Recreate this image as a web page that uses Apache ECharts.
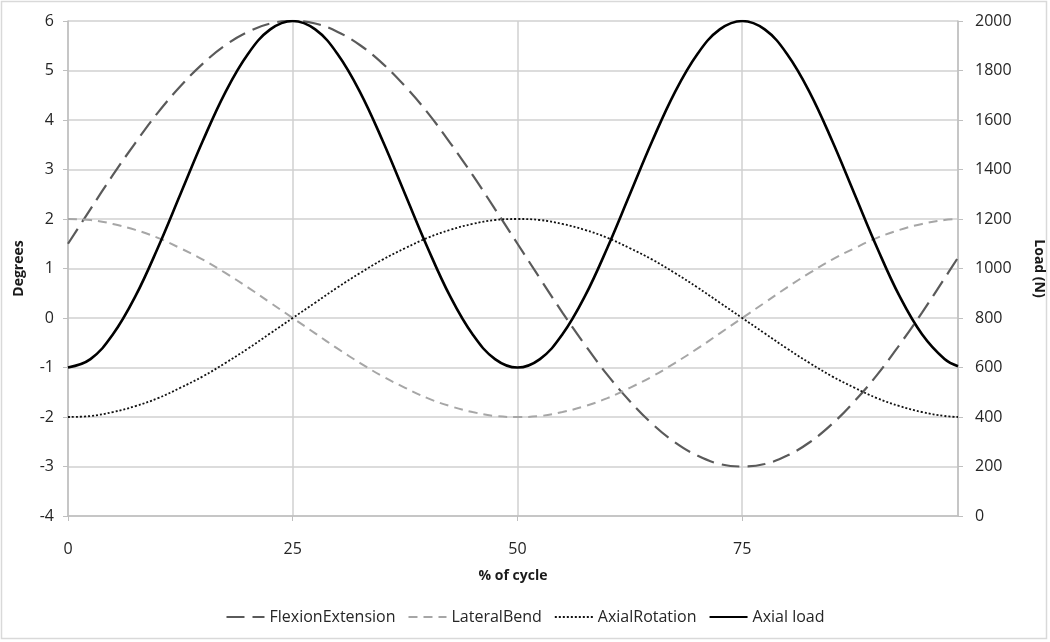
<!DOCTYPE html>
<html>
<head>
<meta charset="utf-8">
<script src="https://cdn.jsdelivr.net/npm/echarts@6/dist/echarts.min.js"></script>
<style>
html,body{margin:0;padding:0;background:#fff;}
#c{width:1050px;height:642px;}
</style>
</head>
<body>
<div id="c"></div>
<script>
// % of cycle
var cycle = [0,2.5,5,7.5,10,12.5,15,17.5,20,22.5,25,27.5,30,32.5,35,37.5,40,42.5,45,47.5,50,52.5,55,57.5,60,62.5,65,67.5,70,72.5,75,77.5,80,82.5,85,87.5,90,92.5,95,97.5,99];
var flexionExtension = [1.5,2.2,2.89,3.54,4.15,4.68,5.14,5.51,5.78,5.95,6,5.95,5.78,5.51,5.14,4.68,4.15,3.54,2.89,2.2,1.5,0.8,0.11,-0.54,-1.15,-1.68,-2.14,-2.51,-2.78,-2.95,-3,-2.95,-2.78,-2.51,-2.14,-1.68,-1.15,-0.54,0.11,0.8,1.22];
var lateralBend = [2,1.98,1.9,1.78,1.62,1.41,1.18,0.91,0.62,0.31,0,-0.31,-0.62,-0.91,-1.18,-1.41,-1.62,-1.78,-1.9,-1.98,-2,-1.98,-1.9,-1.78,-1.62,-1.41,-1.18,-0.91,-0.62,-0.31,0,0.31,0.62,0.91,1.18,1.41,1.62,1.78,1.9,1.98,2];
var axialRotation = [-2,-1.98,-1.9,-1.78,-1.62,-1.41,-1.18,-0.91,-0.62,-0.31,0,0.31,0.62,0.91,1.18,1.41,1.62,1.78,1.9,1.98,2,1.98,1.9,1.78,1.62,1.41,1.18,0.91,0.62,0.31,0,-0.31,-0.62,-0.91,-1.18,-1.41,-1.62,-1.78,-1.9,-1.98,-2];
var axialLoad = [600,634,734,888,1084,1300,1516,1712,1866,1966,2000,1966,1866,1712,1516,1300,1084,888,734,634,600,634,734,888,1084,1300,1516,1712,1866,1966,2000,1966,1866,1712,1516,1300,1084,888,734,634,605];
var xTicks = [0,25,50,75];

function pairs(ys){ return cycle.map(function(x,i){ return [x, ys[i]]; }); }

var FONT = 'Open Sans';
var LABEL = '#262626';
var chart = echarts.init(document.getElementById('c'), null, {renderer:'canvas'});
chart.setOption({
  animation:false,
  backgroundColor:'#fff',
  textStyle:{fontFamily:FONT},
  graphic:[{type:'rect', shape:{x:1.5,y:1.5,width:1045,height:637}, style:{fill:'none', stroke:'#d9d9d9', lineWidth:1.5}, silent:true}],
  grid:{left:68, right:92, top:21, bottom:126, containLabel:false, outerBoundsMode:'none'},
  legend:{
    bottom:12, left:'center', itemWidth:38, itemHeight:10, itemGap:12,
    textStyle:{fontFamily:FONT, fontSize:16, color:LABEL},
    itemStyle:{opacity:0},
    data:['FlexionExtension','LateralBend','AxialRotation','Axial load']
  },
  xAxis:{
    type:'value', min:0, max:99, interval:25,
    name:'% of cycle', nameLocation:'middle', nameGap:53,
    nameTextStyle:{fontFamily:FONT, fontSize:14, fontWeight:'bold', color:'#1a1a1a'},
    axisLine:{show:true, onZero:false, lineStyle:{color:'#bfbfbf', width:1.5}},
    axisTick:{show:true, length:5, lineStyle:{color:'#bfbfbf'}},
    axisLabel:{margin:25, fontSize:16, color:LABEL, showMaxLabel:false,
      formatter:function(v){ return xTicks.indexOf(v) >= 0 ? String(v) : ''; }},
    splitLine:{show:true, lineStyle:{color:'#d0d0d0', width:1.5}}
  },
  yAxis:[{
    type:'value', min:-4, max:6, interval:1, position:'left',
    name:'Degrees', nameLocation:'middle', nameGap:42, nameRotate:90,
    nameTextStyle:{fontFamily:FONT, fontSize:14, fontWeight:'bold', color:'#1a1a1a'},
    axisLine:{show:true, lineStyle:{color:'#bfbfbf', width:1.5}},
    axisTick:{show:true, length:5, lineStyle:{color:'#bfbfbf'}},
    axisLabel:{margin:14, fontSize:16, color:LABEL},
    splitLine:{show:true, lineStyle:{color:'#d0d0d0', width:1.5}}
  },{
    type:'value', min:0, max:2000, interval:200, position:'right',
    name:'Load (N)', nameLocation:'middle', nameGap:74, nameRotate:-90,
    nameTextStyle:{fontFamily:FONT, fontSize:14, fontWeight:'bold', color:'#1a1a1a'},
    axisLine:{show:true, lineStyle:{color:'#bfbfbf', width:1.5}},
    axisTick:{show:true, length:5, lineStyle:{color:'#bfbfbf'}},
    axisLabel:{margin:17, fontSize:16, color:LABEL, formatter:function(v){ return String(v); }},
    splitLine:{show:false}
  }],
  series:[{
    name:'FlexionExtension', type:'line', yAxisIndex:0, smooth:0.4, symbol:'none',
    data:pairs(flexionExtension), itemStyle:{color:'#5a5a5a'},
    lineStyle:{color:'#5a5a5a', width:2.2, type:[18,8]}
  },{
    name:'LateralBend', type:'line', yAxisIndex:0, smooth:0.4, symbol:'none',
    data:pairs(lateralBend), itemStyle:{color:'#a6a6a6'},
    lineStyle:{color:'#a6a6a6', width:2, type:[9,6]}
  },{
    name:'AxialRotation', type:'line', yAxisIndex:0, smooth:0.4, symbol:'none',
    data:pairs(axialRotation), itemStyle:{color:'#111'},
    lineStyle:{color:'#111', width:1.8, type:[2,2]}
  },{
    name:'Axial load', type:'line', yAxisIndex:1, smooth:0.4, symbol:'none',
    data:pairs(axialLoad), itemStyle:{color:'#000'},
    lineStyle:{color:'#000', width:2.6}
  }]
});
</script>
</body>
</html>
